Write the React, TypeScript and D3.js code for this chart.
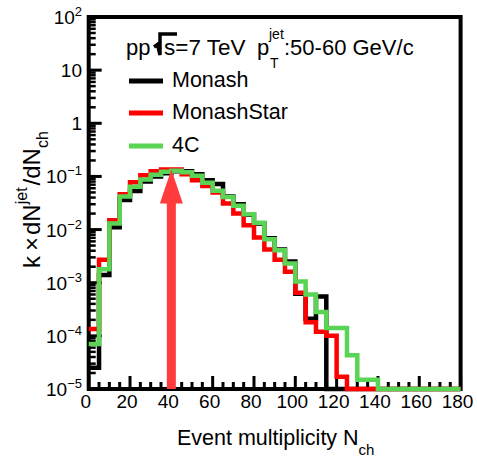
import React from "react";
import * as d3 from "d3";

// ---- data ----
const binWidth = 5;
const xMin = 0;
const xMax = 180;

// Monash (black)
const monash = [
  2.5e-5, 1.4e-3, 0.011, 0.036, 0.053, 0.08, 0.1, 0.115, 0.125, 0.125,
  0.11, 0.085, 0.072, 0.042, 0.03, 0.019, 0.013, 0.0069, 0.0042, 0.0025,
  6.2e-4, 2.1e-4, 5.5e-4, 0, 0, 0, 0, 0, 0, 0,
  0, 0, 0, 0, 0, 0,
];
// MonashStar (red)
const monashStar = [
  1.35e-4, 2.7e-3, 0.015, 0.046, 0.078, 0.105, 0.125, 0.135, 0.135, 0.11,
  0.085, 0.066, 0.05, 0.031, 0.02, 0.012, 0.0071, 0.0042, 0.0027, 1.6e-3,
  6.5e-4, 1.8e-4, 1.2e-4, 1.0e-4, 1.7e-5, 0, 0, 0, 0, 0,
  0, 0, 0, 0, 0, 0,
];
// 4C (green)
const fourC = [
  7e-5, 1.8e-3, 0.013, 0.042, 0.064, 0.088, 0.108, 0.122, 0.128, 0.12,
  0.103, 0.076, 0.054, 0.041, 0.028, 0.0195, 0.0135, 0.0066, 0.0041, 0.0023,
  1.05e-3, 6e-4, 2.8e-4, 1.4e-4, 1.4e-4, 4.3e-5, 1.5e-5, 1.5e-5, 0, 0,
  0, 0, 0, 0, 0, 0,
];

const seriesNames = ["Monash", "MonashStar", "4C"];
const seriesColors = ["#000000", "#ff0000", "#59d454"];

const xTickValues = [0, 20, 40, 60, 80, 100, 120, 140, 160, 180];
const yTickExponents = [2, 1, 0, -1, -2, -3, -4, -5];

const arrowX = 40;
const arrowFrom = 1e-5;
const arrowTo = 0.135;

// ---- layout ----
const W = 477;
const H = 462;
const left = 88.7;
const right = 460.6;
const top = 17;
const bottom = 389;
const FONT = "'Liberation Sans', Arial, Helvetica, sans-serif";

export default function App() {
  const x = d3.scaleLinear().domain([xMin, xMax]).range([left, right]);
  const y = d3.scaleLog().domain([1e-5, 1e2]).range([bottom, top]).clamp(true);

  const stepLine = (vals: number[]) => {
    const pts: [number, number][] = vals.map((v, i) => [xMin + i * binWidth, v]);
    pts.push([xMin + vals.length * binWidth, vals[vals.length - 1]]);
    return d3
      .line<[number, number]>()
      .x((d) => x(d[0]))
      .y((d) => y(Math.max(d[1], 1e-5)))
      .curve(d3.curveStepAfter)(pts) as string;
  };

  const xMinor = d3.range(xMin, xMax + 0.001, binWidth);
  const yMinor: number[] = [];
  for (let e = -5; e < 2; e++) {
    for (let m = 2; m <= 9; m++) yMinor.push(m * Math.pow(10, e));
  }

  const allSeries = [monash, monashStar, fourC];

  const ax = x(arrowX);
  const tipY = y(arrowTo);
  const headBase = tipY + 34;

  const yLabel = (e: number) => {
    if (e === 1) return <tspan>10</tspan>;
    if (e === 0) return <tspan>1</tspan>;
    return (
      <>
        <tspan>10</tspan>
        <tspan dy={-8} fontSize={13}>
          {e < 0 ? "\u2212" + Math.abs(e) : String(e)}
        </tspan>
      </>
    );
  };

  return (
    <svg width={W} height={H} style={{ display: "block", position: "absolute", left: 0, top: 0 }} fontFamily={FONT}>
      <rect x={0} y={0} width={W} height={H} fill="#ffffff" />

      {/* frame */}
      <rect x={left} y={top} width={right - left} height={bottom - top} fill="none" stroke="#000" strokeWidth={4} />

      {/* x ticks */}
      {xMinor.map((v) => {
        const major = v % 20 === 0;
        return (
          <line key={"xt" + v} x1={x(v)} x2={x(v)} y1={bottom} y2={bottom - (major ? 13 : 7)} stroke="#000" strokeWidth={3} />
        );
      })}
      {/* y ticks */}
      {yTickExponents.map((e) => (
        <line key={"ym" + e} x1={left} x2={left + 13} y1={y(Math.pow(10, e))} y2={y(Math.pow(10, e))} stroke="#000" strokeWidth={3} />
      ))}
      {yMinor.map((v, i) => (
        <line key={"yn" + i} x1={left} x2={left + 7} y1={y(v)} y2={y(v)} stroke="#000" strokeWidth={2.5} />
      ))}

      {/* histograms */}
      {allSeries.map((s, i) => (
        <path key={"h" + i} d={stepLine(s)} fill="none" stroke={seriesColors[i]} strokeWidth={4.5} strokeLinejoin="miter" />
      ))}

      {/* arrow */}
      <rect x={ax - 4.5} y={headBase - 1} width={9} height={y(arrowFrom) - headBase + 1} fill="#ff3b3b" />
      <path d={`M${ax - 11.5},${headBase} L${ax + 11.5},${headBase} L${ax},${tipY} Z`} fill="#ff3b3b" />

      {/* x tick labels */}
      {xTickValues.map((v) => (
        <text key={"xl" + v} x={x(v) - 3} y={408} fontSize={19} textAnchor="middle" fill="#000">
          {v}
        </text>
      ))}
      {/* y tick labels */}
      {yTickExponents.map((e) => (
        <text key={"yl" + e} x={82} y={y(Math.pow(10, e)) + 7} fontSize={19} textAnchor="end" fill="#000">
          {yLabel(e)}
        </text>
      ))}

      {/* axis titles */}
      <text x={177} y={445} fontSize={21.5} fill="#000">
        Event multiplicity N
        <tspan dy={10} fontSize={15}>ch</tspan>
      </text>
      <text transform={`translate(40,268) rotate(-90)`} fontSize={24} fill="#000">
        <tspan>k</tspan>
        <tspan dx={5}>×</tspan>
        <tspan dx={2}>dN</tspan>
        <tspan dy={-13} fontSize={16}>jet</tspan>
        <tspan dy={13} dx={2}>/dN</tspan>
        <tspan dy={8} fontSize={16}>ch</tspan>
      </text>

      {/* header */}
      <text x={126} y={55} fontSize={22} fill="#000">pp</text>
      <path d="M154,47 L157.5,44.5 L160,55 L160,34 L177,34" fill="none" stroke="#000" strokeWidth={3.5} />
      <text x={164} y={55} fontSize={22.5} fill="#000">s=7 TeV</text>
      <text x={257} y={55} fontSize={22} fill="#000">p</text>
      <text x={269} y={39} fontSize={14} fill="#000">jet</text>
      <text x={270} y={68} fontSize={14} fill="#000">T</text>
      <text x={284} y={55} fontSize={22} fill="#000">:50-60 GeV/c</text>

      {/* legend */}
      {seriesNames.map((n, i) => {
        const ly = [81, 113, 146][i];
        return (
          <g key={"lg" + i}>
            <line x1={129} x2={163} y1={ly} y2={ly} stroke={seriesColors[i]} strokeWidth={5} />
            <text x={172} y={ly + 6} fontSize={21.5} fill="#000">
              {n}
            </text>
          </g>
        );
      })}
    </svg>
  );
}
